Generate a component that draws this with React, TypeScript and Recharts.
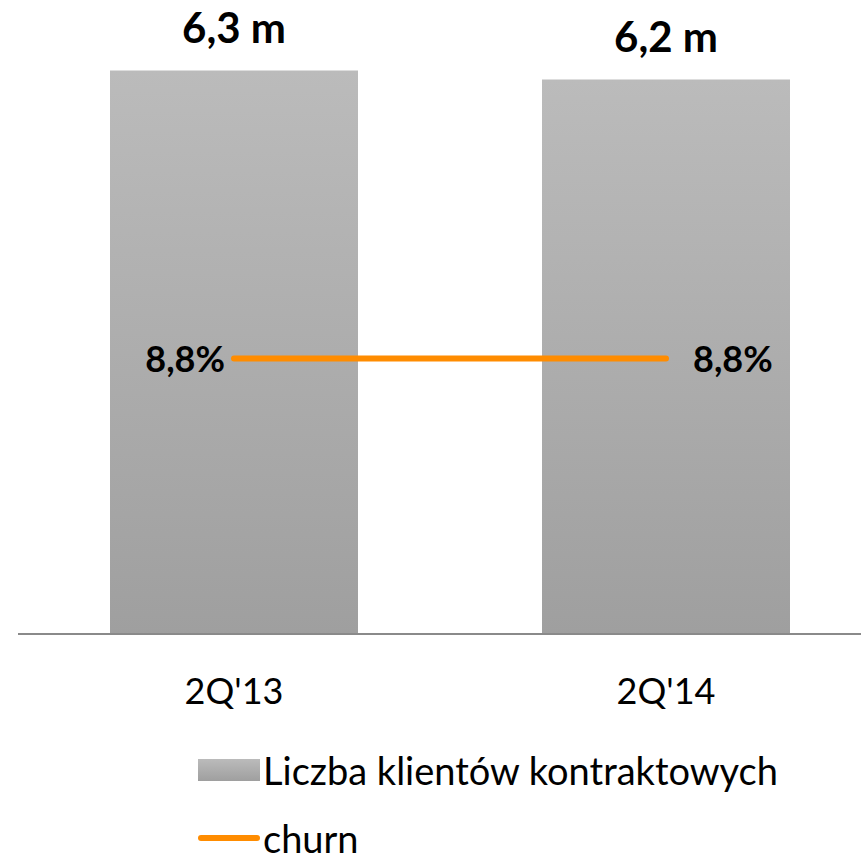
import { ComposedChart, Bar, Line, XAxis, YAxis, LabelList, Legend } from "recharts";

const categories = ["2Q'13", "2Q'14"];
const clients = [6.3, 6.2];
const clientLabels = ["6,3 m", "6,2 m"];
const churn = [8.8, 8.8];
const churnLabels = ["8,8%", "8,8%"];
const seriesNames = ["Liczba klientów kontraktowych", "churn"];

const data = categories.map((q, i) => ({
  q,
  clients: clients[i],
  clientLabel: clientLabels[i],
  churn: churn[i],
}));

const FONT = "Lato, 'Open Sans', sans-serif";
const ORANGE = "#FF8C00";

function ChurnLabel(props: any) {
  const vb = props.viewBox || {};
  const x = props.x ?? vb.x;
  const y = props.y ?? vb.y;
  const left = props.index === 0;
  return (
    <text
      x={left ? x - 9 : x + 27}
      y={y + 13}
      textAnchor={left ? "end" : "start"}
      fontFamily={FONT}
      fontWeight={700}
      fontSize={36}
      fill="#000"
    >
      {churnLabels[props.index]}
    </text>
  );
}

function LegendBox() {
  return (
    <div style={{ fontFamily: FONT, fontSize: 38, color: "#000" }}>
      <div style={{ display: "flex", alignItems: "center", height: 40 }}>
        <svg width={62} height={22} style={{ marginRight: 3 }}>
          <rect x={0} y={0} width={62} height={22} fill="url(#barGrad)" />
        </svg>
        <span style={{ lineHeight: "40px" }}>{seriesNames[0]}</span>
      </div>
      <div style={{ display: "flex", alignItems: "center", height: 30, marginTop: 33 }}>
        <svg width={62} height={10} style={{ marginRight: 3 }}>
          <line x1={3} y1={5} x2={59} y2={5} stroke={ORANGE} strokeWidth={6} strokeLinecap="round" />
        </svg>
        <span style={{ lineHeight: "30px" }}>{seriesNames[1]}</span>
      </div>
    </div>
  );
}

export default function App() {
  return (
    <div
      style={{
        position: "absolute",
        left: 0,
        top: 0,
        width: 861,
        height: 861,
        overflow: "hidden",
        background: "#fff",
      }}
    >
      <ComposedChart
        width={882}
        height={861}
        data={data}
        margin={{ top: 8, right: 0, left: 18, bottom: 167 }}
      >
        <defs>
          <linearGradient id="barGrad" x1="0" y1="0" x2="0" y2="1">
            <stop offset="0%" stopColor="#BBBBBB" />
            <stop offset="100%" stopColor="#9F9F9F" />
          </linearGradient>
        </defs>
        <XAxis
          dataKey="q"
          height={60}
          tickLine={false}
          axisLine={{ stroke: "#8A8A8A", strokeWidth: 2 }}
          tickMargin={38}
          tick={{ fontFamily: FONT, fontSize: 36, fill: "#000" }}
        />
        <YAxis yAxisId="left" hide domain={[0, 7]} />
        <YAxis yAxisId="right" hide orientation="right" domain={[0, 20]} />
        <Bar
          yAxisId="left"
          dataKey="clients"
          name={seriesNames[0]}
          barSize={248}
          fill="url(#barGrad)"
          isAnimationActive={false}
        >
          <LabelList
            dataKey="clientLabel"
            position="top"
            offset={28}
            style={{ fontFamily: FONT, fontWeight: 700, fontSize: 42, fill: "#000" }}
          />
        </Bar>
        <Line
          yAxisId="right"
          dataKey="churn"
          name={seriesNames[1]}
          stroke={ORANGE}
          strokeWidth={6}
          strokeLinecap="round"
          dot={false}
          activeDot={false}
          isAnimationActive={false}
        >
          <LabelList dataKey="churn" content={<ChurnLabel />} />
        </Line>
        <Legend
          layout="vertical"
          align="center"
          verticalAlign="middle"
          wrapperStyle={{ top: 750, left: 198, width: 660, height: 105 }}
          content={() => <LegendBox />}
        />
      </ComposedChart>
    </div>
  );
}
